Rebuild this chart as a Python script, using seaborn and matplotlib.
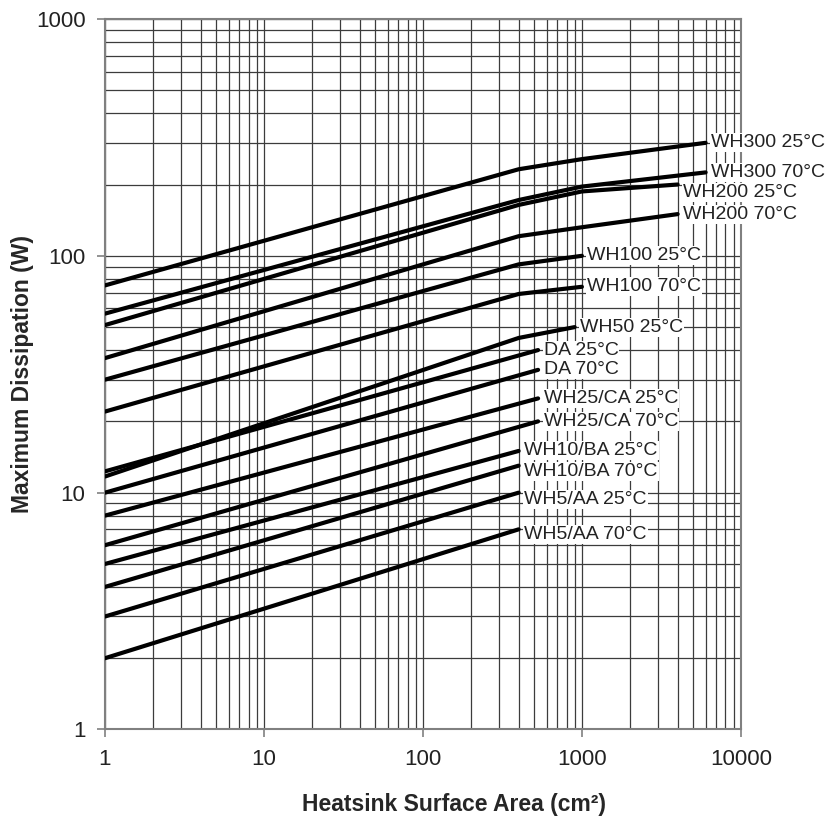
import pandas as pd
import matplotlib
matplotlib.use("Agg")
import matplotlib.pyplot as plt
import seaborn as sns
from matplotlib.ticker import LogLocator, FixedLocator, FixedFormatter, NullFormatter

# ---------------------------------------------------
# Data
# ---------------------------------------------------

labels = ["WH300 25°C", "WH300 70°C", "WH200 25°C", "WH200 70°C",
          "WH100 25°C", "WH100 70°C", "WH50 25°C", "DA 25°C", "DA 70°C",
          "WH25/CA 25°C", "WH25/CA 70°C", "WH10/BA 25°C", "WH10/BA 70°C",
          "WH5/AA 25°C", "WH5/AA 70°C"]

# dissipation (W) at 1 cm2
w_1 = [75, 57, 51, 37, 30, 22, 11.7, 12.3, 10, 8, 6, 5, 4, 3, 2]
# dissipation at 400 cm2 (knee), None = no point there
w_400 = [232, 172, 164, 121, 92, 69, 45, None, None, None, None, None, None, None, None]
# dissipation at 1000 cm2
w_1000 = [256, 196, 187, 132, None, None, None, None, None, None, None, None, None, None, None]
# last point of each curve
end_area = [6000, 6000, 4000, 4000, 1000, 1000, 900, 530, 530, 530, 530, 400, 400, 400, 400]
end_w = [300, 225, 200, 150, 100, 74, 50, 40, 33, 25, 20, 15, 13, 10, 7]

x_ticks = [1, 10, 100, 1000, 10000]
y_ticks = [1, 10, 100, 1000]

# ---------------------------------------------------
# Long-form table
# ---------------------------------------------------

rows = []
for i, name in enumerate(labels):
    rows.append((name, 1, w_1[i]))
    if w_400[i] is not None:
        rows.append((name, 400, w_400[i]))
    if w_1000[i] is not None:
        rows.append((name, 1000, w_1000[i]))
    rows.append((name, end_area[i], end_w[i]))
df = pd.DataFrame(rows, columns=["series", "area", "watts"])

# ---------------------------------------------------
# Plot
# ---------------------------------------------------

sns.set_theme(style="white")
plt.rcParams["font.family"] = ["Liberation Sans", "DejaVu Sans"]

fig = plt.figure(figsize=(8.4, 8.18), dpi=100)
ax = fig.add_axes([0.125, 0.1082, 0.757, 0.8686])

sns.lineplot(data=df, x="area", y="watts", hue="series",
             palette=["black"] * len(labels), linewidth=3, legend=False,
             sort=True, ax=ax, zorder=3)

ax.set_xscale("log")
ax.set_yscale("log")
ax.set_xlim(1, 10000)
ax.set_ylim(1, 1000)

ax.xaxis.set_major_locator(FixedLocator(x_ticks))
ax.xaxis.set_major_formatter(FixedFormatter([str(t) for t in x_ticks]))
ax.yaxis.set_major_locator(FixedLocator(y_ticks))
ax.yaxis.set_major_formatter(FixedFormatter([str(t) for t in y_ticks]))
ax.xaxis.set_minor_locator(LogLocator(base=10, subs=range(2, 10), numticks=20))
ax.yaxis.set_minor_locator(LogLocator(base=10, subs=range(2, 10), numticks=20))
ax.xaxis.set_minor_formatter(NullFormatter())
ax.yaxis.set_minor_formatter(NullFormatter())

ax.grid(True, which="both", color="#3c3c3c", linewidth=0.9)
ax.set_axisbelow(True)

ax.tick_params(which="major", bottom=True, left=True, direction="out",
               length=6, width=1.2, color="#808080", labelsize=16,
               labelcolor="#222222", pad=8)
ax.tick_params(which="minor", length=0)

for sp in ax.spines.values():
    sp.set_color("#808080")
    sp.set_linewidth(1.5)

ax.set_xlabel("Heatsink Surface Area (cm²)", fontsize=16.5, fontweight="bold")
ax.set_ylabel("Maximum Dissipation (W)", fontsize=16.5, fontweight="bold")
ax.xaxis.set_label_coords(0.549, -0.09)
ax.yaxis.set_label_coords(-0.111, 0.5)

# labels at the end of each curve (vertical nudge in points)
label_dy = {"WH200 25°C": -6, "WH10/BA 70°C": -4, "WH5/AA 25°C": -5, "WH5/AA 70°C": -4}
for i, name in enumerate(labels):
    ax.annotate(name, xy=(end_area[i], end_w[i]),
                xytext=(4, label_dy.get(name, 0)), textcoords="offset points",
                ha="left", va="center", fontsize=14, color="#222222",
                bbox=dict(boxstyle="square,pad=0.05", fc="white", ec="none"),
                zorder=5, annotation_clip=False)

fig.savefig("out.png", dpi=100)
plt.close()
